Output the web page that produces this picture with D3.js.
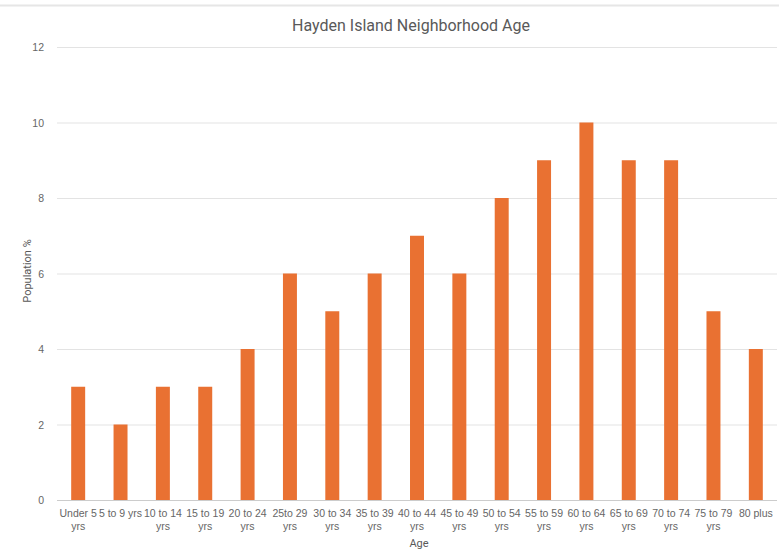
<!DOCTYPE html>
<html>
<head>
<meta charset="utf-8">
<script src="https://cdn.jsdelivr.net/npm/d3@7"></script>
<style>
  body { margin: 0; background: #fff; }
  svg { font-family: Roboto, "Noto Sans", sans-serif; }
  .tick text { fill: #666; font-size: 10.5px; }
</style>
</head>
<body>
<svg id="chart" width="781" height="556"></svg>
<script>
// chart values
var ageGroups = ["Under 5 yrs", "5 to 9 yrs", "10 to 14 yrs", "15 to 19 yrs", "20 to 24 yrs",
  "25to 29 yrs", "30 to 34 yrs", "35 to 39 yrs", "40 to 44 yrs", "45 to 49 yrs", "50 to 54 yrs",
  "55 to 59 yrs", "60 to 64 yrs", "65 to 69 yrs", "70 to 74 yrs", "75 to 79 yrs", "80 plus"];
var popPct = [3, 2, 3, 3, 4, 6, 5, 6, 7, 6, 8, 9, 10, 9, 9, 5, 4];
var yTicks = [0, 2, 4, 6, 8, 10, 12];

var svg = d3.select("#chart");
var mLeft = 57, mRight = 777, mTop = 47, mBottom = 500;

// frame line at the top
svg.append("line").attr("x1", 0).attr("x2", 779).attr("y1", 5.5).attr("y2", 5.5)
  .attr("stroke", "#e6e6e6").attr("stroke-width", 2);

var x = d3.scaleBand().domain(ageGroups).range([mLeft, mRight]).paddingInner(0.67).paddingOuter(0.335);
var y = d3.scaleLinear().domain([0, 12]).range([mBottom, mTop]);

// grid
svg.append("g").selectAll("line").data(yTicks).enter().append("line")
  .attr("x1", mLeft).attr("x2", mRight)
  .attr("y1", function(d) { return y(d) + 0.5; })
  .attr("y2", function(d) { return y(d) + 0.5; })
  .attr("stroke", function(d) { return d == 0 ? "#cccccc" : "#e3e3e3"; });

// y axis labels
var yAxis = svg.append("g").attr("transform", "translate(" + (mLeft - 10) + ",0)")
  .call(d3.axisLeft(y).tickValues(yTicks).tickSize(0).tickFormat(d3.format("d")));
yAxis.select(".domain").remove();
yAxis.selectAll("text").attr("dy", "0.35em");

// bars
svg.append("g").selectAll("rect").data(popPct).enter().append("rect")
  .attr("x", function(d, i) { return x(ageGroups[i]); })
  .attr("y", function(d) { return y(d); })
  .attr("width", x.bandwidth())
  .attr("height", function(d) { return mBottom - y(d); })
  .attr("fill", "#e97132");

// x axis labels
var xAxis = svg.append("g").attr("transform", "translate(0," + mBottom + ")")
  .call(d3.axisBottom(x).tickSize(0).tickPadding(10));
xAxis.select(".domain").remove();

function wrap(text, maxw) {
  text.each(function() {
    var t = d3.select(this), words = t.text().split(" "), line = [], lines = [];
    t.text(null);
    var probe = t.append("tspan");
    words.forEach(function(w) {
      line.push(w);
      probe.text(line.join(" "));
      if (probe.node().getComputedTextLength() > maxw && line.length > 1) {
        line.pop();
        lines.push(line.join(" "));
        line = [w];
      }
    });
    lines.push(line.join(" "));
    probe.remove();
    lines.forEach(function(l, k) {
      t.append("tspan").attr("x", 0).attr("dy", k == 0 ? "0.71em" : "1.24em").text(l);
    });
  });
}
xAxis.selectAll("text").attr("dy", null).call(wrap, 47);

// titles
svg.append("text").attr("x", 411).attr("y", 31).attr("text-anchor", "middle")
  .attr("fill", "#595959").style("font-size", "16px").text("Hayden Island Neighborhood Age");
svg.append("text").attr("x", 419).attr("y", 547).attr("text-anchor", "middle")
  .attr("fill", "#595959").style("font-size", "11px").text("Age");
svg.append("text").attr("transform", "translate(31,271) rotate(-90)").attr("text-anchor", "middle")
  .attr("fill", "#595959").style("font-size", "11px").text("Population %");
</script>
</body>
</html>
